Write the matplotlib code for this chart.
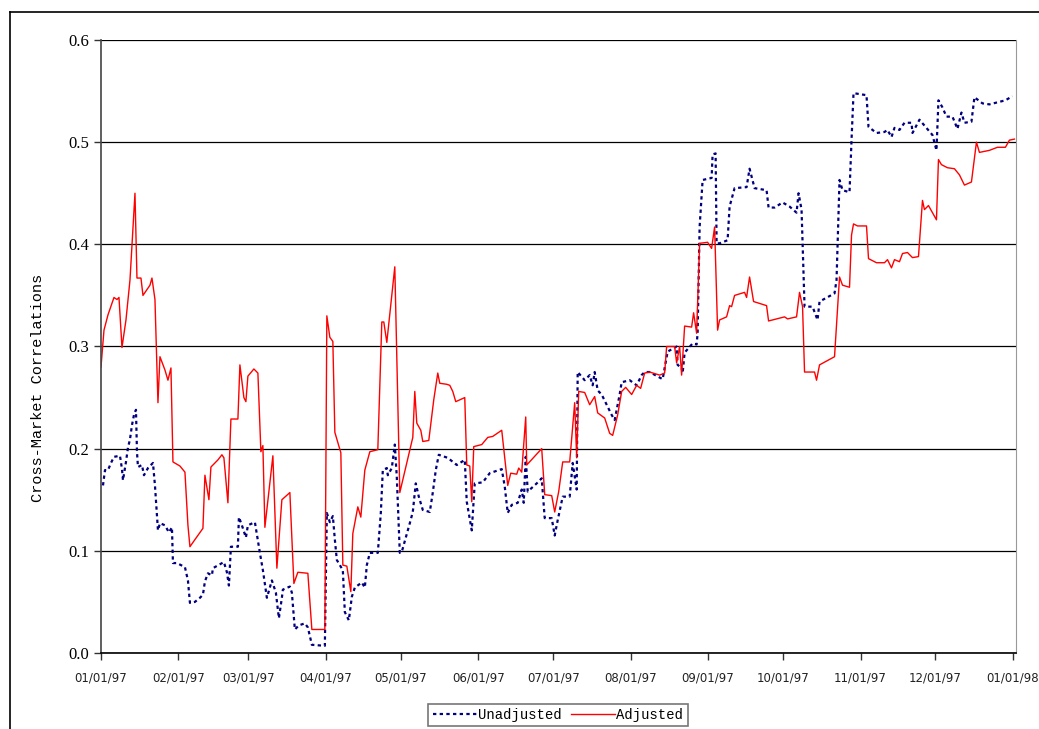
import numpy as np
import pandas as pd
import matplotlib
matplotlib.use("Agg")
import matplotlib.pyplot as plt
import matplotlib.dates as mdates
from matplotlib.lines import Line2D

# days after 01/01/97 and correlation values
adj_days = [0, 1.2, 2.8, 5.2, 6.4, 7.2, 8.4, 10, 11.6, 13.6, 14.4, 16, 16.8, 19.6, 20.4, 21.6,
            22.8, 23.6, 25.6, 26.8, 28, 28.8, 31.6, 33.6, 34.8, 35.6, 37.6, 40.8, 41.6, 43.2,
            44, 46.8, 48.4, 49.2, 50.8, 52, 54.8, 55.6, 57.2, 58, 58.8, 61.2, 62.8, 64, 64.8,
            65.6, 68.8, 70.4, 72.4, 75.6, 77.2, 78.8, 82.8, 84.4, 89.6, 90.4, 91.6, 92.8, 93.6,
            96, 96.8, 98.4, 100, 100.8, 102.8, 104, 105.6, 107.6, 110.8, 112.4, 113.2, 114.4,
            117.6, 119.6, 122, 124.8, 125.6, 126.4, 128, 128.8, 131.2, 133.2, 134.8, 135.6,
            138.4, 139.6, 140.8, 142, 145.6, 146.4, 147.6, 148.4, 149.2, 152.4, 154.8, 156.8,
            160.4, 162.8, 164, 166.4, 167.2, 168.4, 170, 170.4, 176.4, 177.6, 180.4, 181.6,
            183.2, 184.8, 187.6, 189.6, 190.4, 191.2, 193.6, 195.6, 197.6, 198.8, 201.6, 203.6,
            204.8, 206.8, 208.4, 210, 212.4, 214.4, 216, 217.6, 219.6, 223.6, 225.6, 226.4,
            229.6, 230.4, 231.6, 232.4, 233.6, 236.4, 237.2, 238.4, 239.6, 242.8, 244.4, 245.6,
            246.8, 247.6, 250.4, 251.6, 252.4, 253.6, 257.6, 258.4, 259.6, 261.2, 266.4, 267.2,
            270.4, 273.6, 274.8, 278.4, 279.6, 280.8, 281.6, 285.6, 286.4, 287.6, 293.6, 295.6,
            296.8, 299.6, 300.4, 301.2, 302.8, 306.4, 307.2, 310.4, 313.6, 314.8, 316.4, 317.6,
            319.6, 320.8, 322.8, 324.8, 327.2, 328.8, 329.6, 331.2, 334.4, 335.2, 336.4, 338.8,
            341.6, 343.6, 345.6, 348.4, 350.4, 351.6, 355.6, 358.8, 362, 363.6, 365.6]
adjusted = [0.280, 0.316, 0.331, 0.348, 0.346, 0.348, 0.299, 0.326, 0.365, 0.450, 0.367, 0.367,
            0.350, 0.360, 0.367, 0.346, 0.245, 0.290, 0.277, 0.267, 0.279, 0.187, 0.183, 0.177,
            0.125, 0.104, 0.111, 0.122, 0.174, 0.150, 0.182, 0.189, 0.194, 0.191, 0.147, 0.229,
            0.229, 0.282, 0.250, 0.246, 0.271, 0.278, 0.274, 0.197, 0.203, 0.123, 0.193, 0.083,
            0.150, 0.157, 0.068, 0.079, 0.078, 0.023, 0.023, 0.330, 0.309, 0.305, 0.216, 0.196,
            0.086, 0.085, 0.060, 0.117, 0.143, 0.133, 0.179, 0.197, 0.199, 0.324, 0.324, 0.304,
            0.378, 0.157, 0.182, 0.211, 0.256, 0.225, 0.218, 0.207, 0.208, 0.248, 0.274, 0.264,
            0.263, 0.262, 0.256, 0.246, 0.250, 0.184, 0.183, 0.148, 0.202, 0.204, 0.211, 0.212,
            0.218, 0.164, 0.176, 0.175, 0.181, 0.177, 0.231, 0.184, 0.200, 0.155, 0.154, 0.138,
            0.158, 0.187, 0.187, 0.245, 0.191, 0.256, 0.255, 0.243, 0.251, 0.235, 0.230, 0.215,
            0.213, 0.233, 0.256, 0.260, 0.253, 0.262, 0.259, 0.274, 0.275, 0.272, 0.274, 0.300,
            0.300, 0.284, 0.300, 0.272, 0.320, 0.319, 0.333, 0.313, 0.401, 0.402, 0.396, 0.417,
            0.316, 0.326, 0.329, 0.340, 0.339, 0.350, 0.353, 0.348, 0.368, 0.344, 0.340, 0.325,
            0.327, 0.329, 0.327, 0.329, 0.353, 0.339, 0.275, 0.275, 0.267, 0.282, 0.290, 0.368,
            0.360, 0.358, 0.409, 0.420, 0.418, 0.418, 0.386, 0.382, 0.382, 0.385, 0.377, 0.385,
            0.383, 0.391, 0.392, 0.387, 0.388, 0.443, 0.434, 0.438, 0.424, 0.483, 0.478, 0.475,
            0.474, 0.468, 0.458, 0.461, 0.500, 0.490, 0.492, 0.495, 0.495, 0.502, 0.503]

unadj_days = [0.8, 1.6, 2.8, 4, 5.2, 7.6, 8.4, 8.8, 10, 10.8, 11.6, 12.4, 13.2, 14, 14.4, 14.8,
              16.4, 17.2, 18.8, 20.8, 21.6, 22.8, 23.6, 25.6, 27.2, 28.4, 28.8, 30.4, 33.6, 34.8,
              35.6, 37.6, 39.6, 40.8, 41.6, 42.8, 44.4, 44.8, 48.4, 49.2, 50.4, 51.2, 52, 54.8,
              55.2, 56.4, 58, 58.8, 61.6, 63.6, 64.8, 66.4, 68.4, 70, 71.2, 72.4, 72.8, 75.6,
              76.4, 77.6, 79.2, 81.6, 82.8, 84.4, 89.6, 90.4, 91.6, 92.8, 93.6, 94.4, 96.8, 97.6,
              99.2, 100.4, 101.6, 104.4, 105.6, 106.4, 107.6, 110.8, 112, 112.8, 114.4, 114.8,
              116.4, 117.6, 118.4, 119.6, 120.4, 122, 123.6, 124.8, 126, 127.2, 128.8, 131.6,
              132.8, 134, 135.2, 138.8, 142.4, 145.6, 146.4, 148.4, 149.6, 152.8, 155.6, 160.4,
              161.6, 162.8, 164.4, 166.8, 168.4, 169.2, 170, 170.8, 174.4, 176.4, 177.6, 180.4,
              181.6, 182.8, 184.8, 187.6, 188.8, 190.4, 190.8, 193.6, 195.6, 196.8, 197.6, 198.8,
              200.4, 202.4, 204.4, 205.6, 207.6, 208.4, 211.6, 214.4, 216.4, 217.6, 219.6, 224.8,
              226.8, 230.4, 230.8, 232.4, 232.8, 233.6, 236.8, 238.4, 238.8, 239.6, 240.8, 244.4,
              244.8, 246, 246.4, 247.6, 250.8, 251.6, 253.6, 258.4, 259.6, 261.6, 266.4, 267.2,
              269.6, 272.8, 275.6, 278.4, 279.2, 280.4, 281.6, 284.8, 286.8, 287.6, 293.6, 294.4,
              295.6, 296.8, 299.6, 300.4, 301.2, 306.4, 307.2, 310.4, 313.6, 314.8, 316.4, 317.6,
              319.6, 321.6, 324.4, 324.8, 327.6, 330.4, 332.8, 334.4, 335.2, 336.8, 338.4, 340.8,
              342.8, 344.4, 345.6, 348.4, 349.6, 352.8, 355.6, 358.8, 362, 364.8]
unadjusted = [0.164, 0.179, 0.179, 0.186, 0.192, 0.193, 0.180, 0.169, 0.187, 0.201, 0.209, 0.223,
              0.233, 0.238, 0.197, 0.182, 0.184, 0.174, 0.181, 0.186, 0.164, 0.120, 0.127, 0.125,
              0.118, 0.123, 0.088, 0.088, 0.084, 0.071, 0.049, 0.050, 0.054, 0.057, 0.070, 0.078,
              0.076, 0.083, 0.088, 0.089, 0.079, 0.066, 0.104, 0.104, 0.133, 0.125, 0.113, 0.125,
              0.128, 0.098, 0.081, 0.054, 0.071, 0.059, 0.034, 0.054, 0.062, 0.065, 0.059, 0.023,
              0.027, 0.029, 0.025, 0.008, 0.007, 0.137, 0.128, 0.134, 0.111, 0.091, 0.081, 0.040,
              0.032, 0.055, 0.064, 0.069, 0.064, 0.086, 0.098, 0.098, 0.137, 0.179, 0.181, 0.174,
              0.181, 0.204, 0.172, 0.098, 0.099, 0.113, 0.127, 0.138, 0.166, 0.153, 0.140, 0.138,
              0.157, 0.179, 0.194, 0.191, 0.184, 0.189, 0.148, 0.120, 0.166, 0.167, 0.176, 0.180,
              0.163, 0.137, 0.145, 0.147, 0.160, 0.147, 0.192, 0.158, 0.166, 0.171, 0.132, 0.132,
              0.115, 0.130, 0.153, 0.153, 0.186, 0.160, 0.275, 0.267, 0.272, 0.262, 0.275, 0.257,
              0.253, 0.243, 0.233, 0.228, 0.253, 0.265, 0.267, 0.262, 0.272, 0.275, 0.275, 0.268,
              0.295, 0.300, 0.282, 0.279, 0.274, 0.294, 0.303, 0.302, 0.313, 0.417, 0.463, 0.465,
              0.488, 0.489, 0.401, 0.401, 0.404, 0.437, 0.455, 0.456, 0.474, 0.455, 0.453, 0.436,
              0.436, 0.441, 0.437, 0.431, 0.450, 0.434, 0.339, 0.339, 0.326, 0.344, 0.352, 0.365,
              0.463, 0.453, 0.451, 0.502, 0.548, 0.546, 0.515, 0.509, 0.510, 0.512, 0.505, 0.514,
              0.512, 0.519, 0.519, 0.509, 0.522, 0.514, 0.507, 0.492, 0.541, 0.534, 0.525, 0.525,
              0.513, 0.529, 0.519, 0.520, 0.544, 0.538, 0.537, 0.539, 0.541, 0.545]

start = pd.Timestamp("1997-01-01")
adj_dates = start + pd.to_timedelta(adj_days, unit="D")
unadj_dates = start + pd.to_timedelta(unadj_days, unit="D")

fig = plt.figure(figsize=(10.39, 7.29), dpi=100)
ax = fig.add_axes([0.0972, 0.1043, 0.8807, 0.8408])

# outer frame (only top and left edges visible in the picture)
fig.add_artist(Line2D([10 / 1039, 1.0], [1 - 12 / 729] * 2, transform=fig.transFigure, color="black", lw=1.2))
fig.add_artist(Line2D([10 / 1039] * 2, [0, 1 - 12 / 729], transform=fig.transFigure, color="black", lw=1.2))

l1, = ax.plot(unadj_dates, unadjusted, color="#000080", lw=1.6, linestyle=(0, (1.5, 1.5)), label="Unadjusted")
l2, = ax.plot(adj_dates, adjusted, color="red", lw=1.0, label="Adjusted")

ax.set_ylim(0, 0.6)
ax.set_xlim(start, pd.Timestamp("1998-01-02 06:00"))
ax.set_yticks(np.arange(0, 0.61, 0.1))
ax.yaxis.set_major_formatter(matplotlib.ticker.FormatStrFormatter("%.1f"))
ax.yaxis.grid(True, color="black", lw=0.9)
ax.set_axisbelow(True)

ax.xaxis.set_major_locator(mdates.MonthLocator())
ax.xaxis.set_major_formatter(mdates.DateFormatter("%m/%d/%y"))

for lab in ax.get_yticklabels():
    lab.set_fontfamily("Liberation Serif")
    lab.set_fontsize(12)
for lab in ax.get_xticklabels():
    lab.set_fontfamily("DejaVu Sans")
    lab.set_fontsize(8.5)
    lab.set_color("#222222")
ax.tick_params(axis="both", direction="out", length=5, width=1, color="#333333")
ax.tick_params(axis="x", pad=8)

ax.spines["top"].set_visible(False)
ax.spines["right"].set_color("#999999")
ax.spines["left"].set_color("#444444")
ax.spines["left"].set_linewidth(1.2)
ax.spines["bottom"].set_linewidth(1.2)

ax.set_ylabel("Cross-Market Correlations", fontfamily="Liberation Mono", fontsize=11)
ax.yaxis.set_label_coords(-0.061, 0.432)

leg = fig.legend(handles=[l1, l2], loc="upper center", bbox_to_anchor=(558 / 1039, 1 - 697 / 729),
                 ncol=2, frameon=True, fancybox=False, edgecolor="#555555", handlelength=3.2,
                 handletextpad=0.1, columnspacing=0.6, borderpad=0.3,
                 prop={"family": "Liberation Mono", "size": 10})
leg.get_frame().set_linewidth(1.2)

fig.savefig("out.png", dpi=100)
